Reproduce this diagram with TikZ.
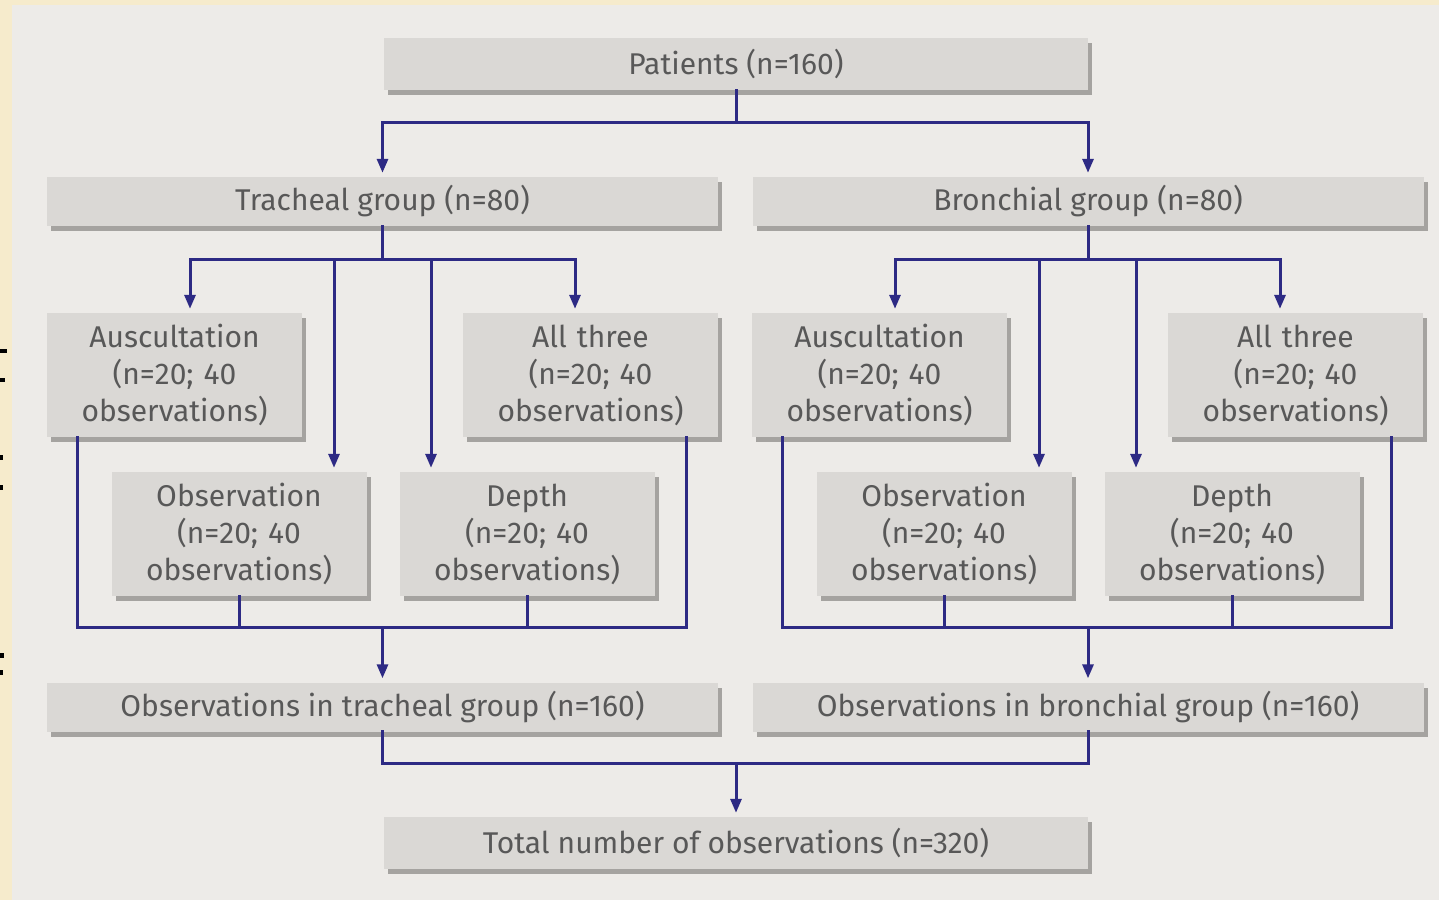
\documentclass[tikz,border=0pt]{standalone}
\usepackage{fontspec}
\setmainfont{Fira Sans}
\usetikzlibrary{arrows.meta,shadows,calc}
\definecolor{panel}{HTML}{EDEBE8}
\definecolor{beige}{HTML}{F6EBCC}
\definecolor{boxfill}{HTML}{DAD8D5}
\definecolor{boxshadow}{HTML}{9E9C99}
\definecolor{navy}{HTML}{2D2A84}
\definecolor{txt}{HTML}{585858}
\tikzset{
  box/.style={fill=boxfill, draw=none, inner sep=0pt, align=center, text=txt,
    font=\fontsize{30}{37}\selectfont,
    drop shadow={shadow xshift=4pt, shadow yshift=-5pt, fill=boxshadow, opacity=0.9}},
  wide/.style={box, minimum width=671pt, minimum height=49pt},
  mid/.style={box, minimum width=704pt, minimum height=52pt},
  small/.style={box, minimum width=255pt, minimum height=124pt, text width=250pt},
  conn/.style={draw=navy, line width=3pt, line cap=rect},
  arr/.style={conn, line cap=butt, -{Triangle[length=14pt,width=11pt]}, shorten >=4pt},
  glyphbit/.style={fill=black, draw=none}
}
\begin{document}
\begin{tikzpicture}[x=1pt,y=-1pt]
\useasboundingbox (0,0) rectangle (1439,900);
\fill[beige] (0,0) rectangle (1439,900);
\fill[panel] (12,5) rectangle (1439,900);
% partial glyph fragments at the left edge
\fill[glyphbit] (0,349) rectangle (7,353);
\fill[glyphbit] (0,378) rectangle (5,382);
\fill[glyphbit] (0,455) rectangle (3,460);
\fill[glyphbit] (0,485) rectangle (3,490);
\fill[glyphbit] (0,653) rectangle (4,658);
\fill[glyphbit] (0,670) rectangle (3,675);
% nodes
\node[mid] (P) at (736,64) {Patients (n=160)};
\node[wide] (T) at (382.5,201.5) {Tracheal group (n=80)};
\node[wide] (B) at (1088,201.5) {Bronchial group (n=80)};
\node[small] (A1) at (174.5,375) {Auscultation\\(n=20; 40\\observations)};
\node[small] (L1) at (590.5,375) {All three\\(n=20; 40\\observations)};
\node[small] (O1) at (239,534) {Observation\\(n=20; 40\\observations)};
\node[small] (D1) at (527,534) {Depth\\(n=20; 40\\observations)};
\node[small] (A2) at (879.5,375) {Auscultation\\(n=20; 40\\observations)};
\node[small] (L2) at (1295.5,375) {All three\\(n=20; 40\\observations)};
\node[small] (O2) at (944,534) {Observation\\(n=20; 40\\observations)};
\node[small] (D2) at (1232,534) {Depth\\(n=20; 40\\observations)};
\node[wide] (OT) at (382.5,707) {Observations in tracheal group (n=160)};
\node[wide] (OB) at (1088,707) {Observations in bronchial group (n=160)};
\node[mid] (TOT) at (736,843) {Total number of observations (n=320)};
% arrow targets
\coordinate (o1a) at ([xshift=95pt]O1.north);
\coordinate (d1a) at ([xshift=-96pt]D1.north);
\coordinate (o2a) at ([xshift=95pt]O2.north);
\coordinate (d2a) at ([xshift=-96pt]D2.north);
% patients split
\coordinate (pj) at ($(P.south)+(0,32)$);
\draw[conn] (P.south) -- (pj);
\draw[arr] (pj) -| (T.north);
\draw[arr] (pj) -| (B.north);
% tracheal split
\coordinate (tj) at ($(T.south)+(0,33)$);
\draw[conn] (T.south) -- (tj);
\draw[arr] (tj) -| ([xshift=15.5pt]A1.north);
\draw[arr] (tj) -| ([xshift=-15.5pt]L1.north);
\draw[arr] (tj -| o1a) -- (o1a);
\draw[arr] (tj -| d1a) -- (d1a);
% bronchial split
\coordinate (bj) at ($(B.south)+(0,33)$);
\draw[conn] (B.south) -- (bj);
\draw[arr] (bj) -| ([xshift=15.5pt]A2.north);
\draw[arr] (bj) -| ([xshift=-15.5pt]L2.north);
\draw[arr] (bj -| o2a) -- (o2a);
\draw[arr] (bj -| d2a) -- (d2a);
% tracheal merge
\coordinate (tm) at ($(OT.north)+(0,-55)$);
\draw[conn] ([xshift=31pt]A1.south west) |- (tm) -| ([xshift=-32pt]L1.south east);
\draw[conn] (O1.south) -- (O1.south |- tm);
\draw[conn] (D1.south) -- (D1.south |- tm);
\draw[arr] (tm) -- (OT.north);
% bronchial merge
\coordinate (bm) at ($(OB.north)+(0,-55)$);
\draw[conn] ([xshift=31pt]A2.south west) |- (bm) -| ([xshift=-32pt]L2.south east);
\draw[conn] (O2.south) -- (O2.south |- bm);
\draw[conn] (D2.south) -- (D2.south |- bm);
\draw[arr] (bm) -- (OB.north);
% total
\coordinate (fj) at ($(TOT.north)+(0,-53)$);
\draw[conn] (OT.south) |- (fj) -| (OB.south);
\draw[arr] (fj) -- (TOT.north);
\end{tikzpicture}
\end{document}
